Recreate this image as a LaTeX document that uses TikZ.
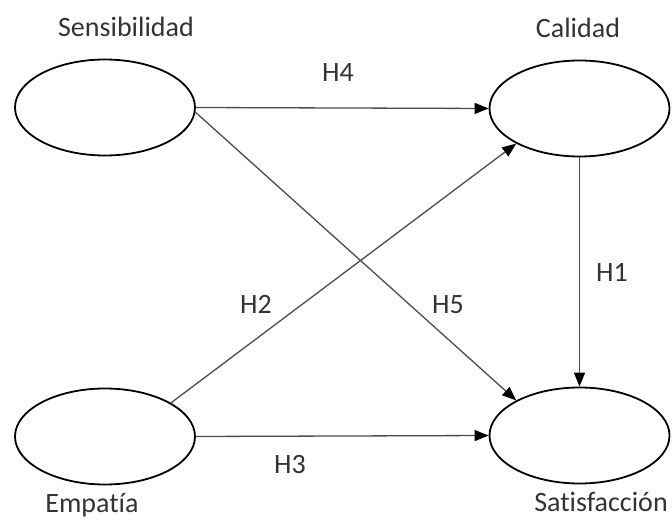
\documentclass[tikz,border=0pt]{standalone}
\usepackage{fontspec}
\setmainfont[Ligatures=NoCommon]{Carlito}
\usetikzlibrary{shapes.geometric,arrows.meta}
\begin{document}
\begin{tikzpicture}[x=1pt,y=-1pt,
  construct/.style={draw=black,line width=1.8pt,ellipse,minimum width=180pt,minimum height=96pt,inner sep=0pt},
  lbl/.style={anchor=base,inner sep=0pt,text=black!80,font=\fontsize{28}{33}\selectfont},
  path/.style={draw=black!70,line width=1.3pt,-{Triangle[length=14pt,width=11pt,fill=black,color=black]}}]
\useasboundingbox (0,0) rectangle (672,521);
\node[construct] (sens) at (105,107.5) {};
\node[construct] (cal) at (579.5,108.5) {};
\node[construct] (emp) at (105,436.5) {};
\node[construct] (sat) at (579.5,435.5) {};
\node[lbl] (tsens) at (126,37) {Sensibilidad};
\node[lbl] (tcal) at (578,38) {Calidad};
\node[lbl] (temp) at (92,512) {Empatía};
\node[lbl] (tsat) at (601,511) {Satisfacción};
\draw[path] (sens.east) -- (cal.west);
\node[lbl] (lh4) at (338,82) {H4};
\draw[path] (cal.south) -- (sat.north);
\node[lbl] (lh1) at (612,282) {H1};
\draw[path] (emp.27.6) -- (cal.209.4);
\node[lbl] (lh2) at (256,313) {H2};
\draw[path] (sens.-3) -- (sat.151.3);
\node[lbl] (lh5) at (448,313) {H5};
\draw[path] (emp.east) -- (sat.west);
\node[lbl] (lh3) at (290,473) {H3};
\end{tikzpicture}
\end{document}
